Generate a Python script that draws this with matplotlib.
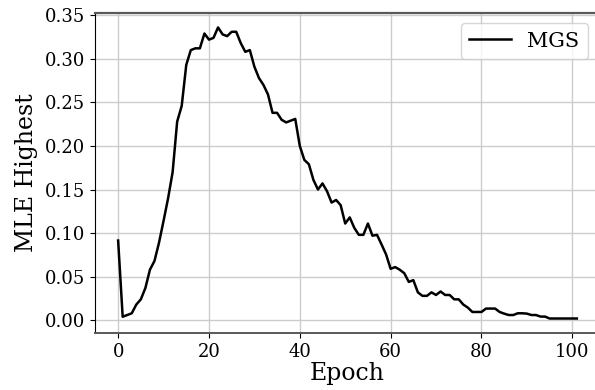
import matplotlib
matplotlib.use("Agg")
import matplotlib.pyplot as plt

plt.rcParams['font.family'] = 'DejaVu Serif'

# MLE highest value per epoch
epochs = list(range(102))
mgs = [0.0915, 0.004, 0.006, 0.008, 0.018, 0.024, 0.037, 0.058, 0.068, 0.089,
       0.114, 0.140, 0.170, 0.228, 0.246, 0.293, 0.310, 0.312, 0.312, 0.329,
       0.322, 0.324, 0.336, 0.328, 0.326, 0.331, 0.331, 0.318, 0.308, 0.310,
       0.291, 0.278, 0.270, 0.259, 0.238, 0.238, 0.230, 0.227, 0.229, 0.231,
       0.200, 0.184, 0.179, 0.161, 0.150, 0.157, 0.148, 0.135, 0.138, 0.132,
       0.111, 0.118, 0.106, 0.098, 0.098, 0.111, 0.097, 0.098, 0.087, 0.0755,
       0.059, 0.061, 0.058, 0.054, 0.044, 0.046, 0.032, 0.028, 0.028, 0.032,
       0.029, 0.033, 0.029, 0.029, 0.024, 0.024, 0.018, 0.0145, 0.0095, 0.0095,
       0.0095, 0.0134, 0.0134, 0.0134, 0.0095, 0.0076, 0.006, 0.006, 0.008, 0.008,
       0.0076, 0.006, 0.006, 0.0042, 0.0042, 0.002, 0.002, 0.002, 0.002, 0.002,
       0.002, 0.002]

fig = plt.figure(figsize=(5.95, 3.90), dpi=100)
ax = fig.add_axes([0.16, 0.146, 0.848, 0.821])
ax.plot(epochs, mgs, color='black', linewidth=1.8, label='MGS')
ax.grid(True, color='#cccccc', linewidth=1.0)
ax.set_axisbelow(True)
ax.set_xlabel('Epoch', fontsize=17, labelpad=1)
ax.set_ylabel('MLE Highest', fontsize=17, labelpad=5)
ax.tick_params(labelsize=13)
ax.set_xticks([0, 20, 40, 60, 80, 100])
ax.set_yticks([0.0, 0.05, 0.10, 0.15, 0.20, 0.25, 0.30, 0.35])
ax.set_yticklabels(['0.00', '0.05', '0.10', '0.15', '0.20', '0.25', '0.30', '0.35'])
for s in ['top', 'bottom', 'right']:
    ax.spines[s].set_color('0.35')
ax.spines['top'].set_linewidth(1.6)
ax.spines['bottom'].set_linewidth(1.4)
ax.spines['left'].set_color('black')
ax.legend(fontsize=15, loc='upper right', bbox_to_anchor=(0.997, 1.0))
fig.savefig('out.png', dpi=100)
